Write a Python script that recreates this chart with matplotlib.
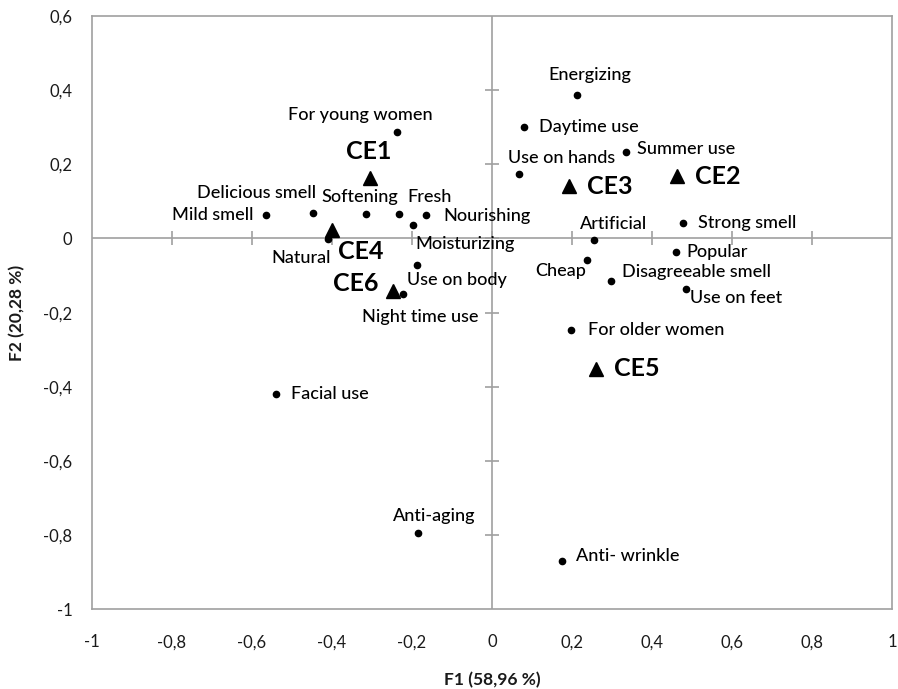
import matplotlib
matplotlib.use("Agg")
import matplotlib.pyplot as plt

# attributes (F1, F2)
attr_names = ["Energizing", "Daytime use", "Summer use", "Use on hands", "Strong smell",
              "Artificial", "Popular", "Cheap", "Disagreeable smell", "Use on feet",
              "For older women", "Anti- wrinkle", "Anti-aging", "Facial use",
              "Night time use", "Use on body", "Moisturizing", "Nourishing", "Fresh",
              "Softening", "Delicious smell", "Mild smell", "Natural", "For young women"]
attr_f1 = [0.212, 0.081, 0.335, 0.068, 0.478,
           0.256, 0.459, 0.238, 0.297, 0.484,
           0.197, 0.175, -0.184, -0.541,
           -0.222, -0.188, -0.197, -0.165, -0.232,
           -0.315, -0.447, -0.566, -0.409, -0.238]
attr_f2 = [0.388, 0.301, 0.233, 0.173, 0.042,
           -0.005, -0.036, -0.057, -0.114, -0.137,
           -0.248, -0.871, -0.794, -0.420,
           -0.150, -0.072, 0.037, 0.064, 0.066,
           0.066, 0.069, 0.062, -0.001, 0.288]

# samples
ce_names = ["CE1", "CE2", "CE3", "CE4", "CE5", "CE6"]
ce_f1 = [-0.305, 0.462, 0.193, -0.401, 0.259, -0.248]
ce_f2 = [0.164, 0.168, 0.141, 0.022, -0.351, -0.143]

ticks_x = [-1, -0.8, -0.6, -0.4, -0.2, 0, 0.2, 0.4, 0.6, 0.8, 1]
ticks_y = [-1, -0.8, -0.6, -0.4, -0.2, 0, 0.2, 0.4, 0.6]

# label placement: ha, dx, dy (pixels)
attr_pos = {
    "Energizing": ("center", 13, 20), "Daytime use": ("left", 15, 0),
    "Summer use": ("left", 11, 3), "Use on hands": ("left", -11, 16),
    "Strong smell": ("left", 15, 0), "Artificial": ("left", -14, 16),
    "Popular": ("left", 11, 0), "Cheap": ("right", -1, -11),
    "Disagreeable smell": ("left", 11, 9), "Use on feet": ("left", 4, -9),
    "For older women": ("left", 17, 0), "Anti- wrinkle": ("left", 14, 5),
    "Anti-aging": ("center", 16, 17), "Facial use": ("left", 15, 0),
    "Night time use": ("center", 17, -23), "Use on body": ("left", -10, -15),
    "Moisturizing": ("left", 2, -19), "Nourishing": ("left", 17, -1),
    "Fresh": ("left", 8, 17), "Softening": ("center", -6, 17),
    "Delicious smell": ("right", 3, 20), "Mild smell": ("right", -12, 0),
    "Natural": ("right", 2, -19), "For young women": ("center", -37, 17),
}
ce_pos = {
    "CE1": ("center", -1, 26), "CE2": ("left", 18, 0), "CE3": ("left", 18, 0),
    "CE4": ("left", 6, -21), "CE5": ("left", 18, 0), "CE6": ("right", -14, 8),
}

plt.rcParams['font.family'] = ['Lato', 'DejaVu Sans']
grey = '#a0a0a0'

fig = plt.figure(figsize=(8.98, 6.89), dpi=100)
ax = fig.add_axes([0.1025, 0.1157, 0.8909, 0.8611])
ax.set_xlim(-1, 1)
ax.set_ylim(-1, 0.6)
for s in ax.spines.values():
    s.set_color(grey)
    s.set_linewidth(1.2)
ax.set_xticks(ticks_x)
ax.set_yticks(ticks_y)
ax.set_xticklabels([("%g" % t).replace(".", ",") for t in ticks_x])
ax.set_yticklabels([("%g" % t).replace(".", ",") for t in ticks_y])
ax.tick_params(axis='x', length=0, pad=18, labelsize=12, labelcolor='#1a1a1a')
ax.tick_params(axis='y', length=0, pad=14, labelsize=12, labelcolor='#1a1a1a')

# zero lines with crossing ticks
ax.axhline(0, color=grey, lw=1.2, zorder=1)
ax.axvline(0, color=grey, lw=1.2, zorder=1)
ax.plot(ticks_x[1:-1], [0] * (len(ticks_x) - 2), '|', color=grey, ms=10, mew=1.2, zorder=1)
ax.plot([0] * (len(ticks_y) - 2), ticks_y[1:-1], '_', color=grey, ms=10, mew=1.2, zorder=1)

ax.plot(attr_f1, attr_f2, 'o', color='black', ms=4.5, zorder=3)
ax.plot(ce_f1, ce_f2, '^', color='black', ms=10.5, zorder=3)

for n, x, y in zip(attr_names, attr_f1, attr_f2):
    ha, dx, dy = attr_pos[n]
    ax.annotate(n, (x, y), xytext=(dx, dy), textcoords='offset pixels',
                ha=ha, va='center', fontsize=13, fontweight='medium', color='black')
for n, x, y in zip(ce_names, ce_f1, ce_f2):
    ha, dx, dy = ce_pos[n]
    ax.annotate(n, (x, y), xytext=(dx, dy), textcoords='offset pixels',
                ha=ha, va='center', fontsize=18, fontweight='bold', color='black')

fig.text(492 / 898, 1 - 680 / 689, "F1 (58,96 %)", ha='center', va='center',
         fontsize=12.5, fontweight='bold', color='#1a1a1a')
fig.text(17.5 / 898, 1 - 313 / 689, "F2 (20,28 %)", ha='center', va='center',
         rotation=90, fontsize=12.5, fontweight='bold', color='#1a1a1a')

fig.savefig("out.png", dpi=100)
